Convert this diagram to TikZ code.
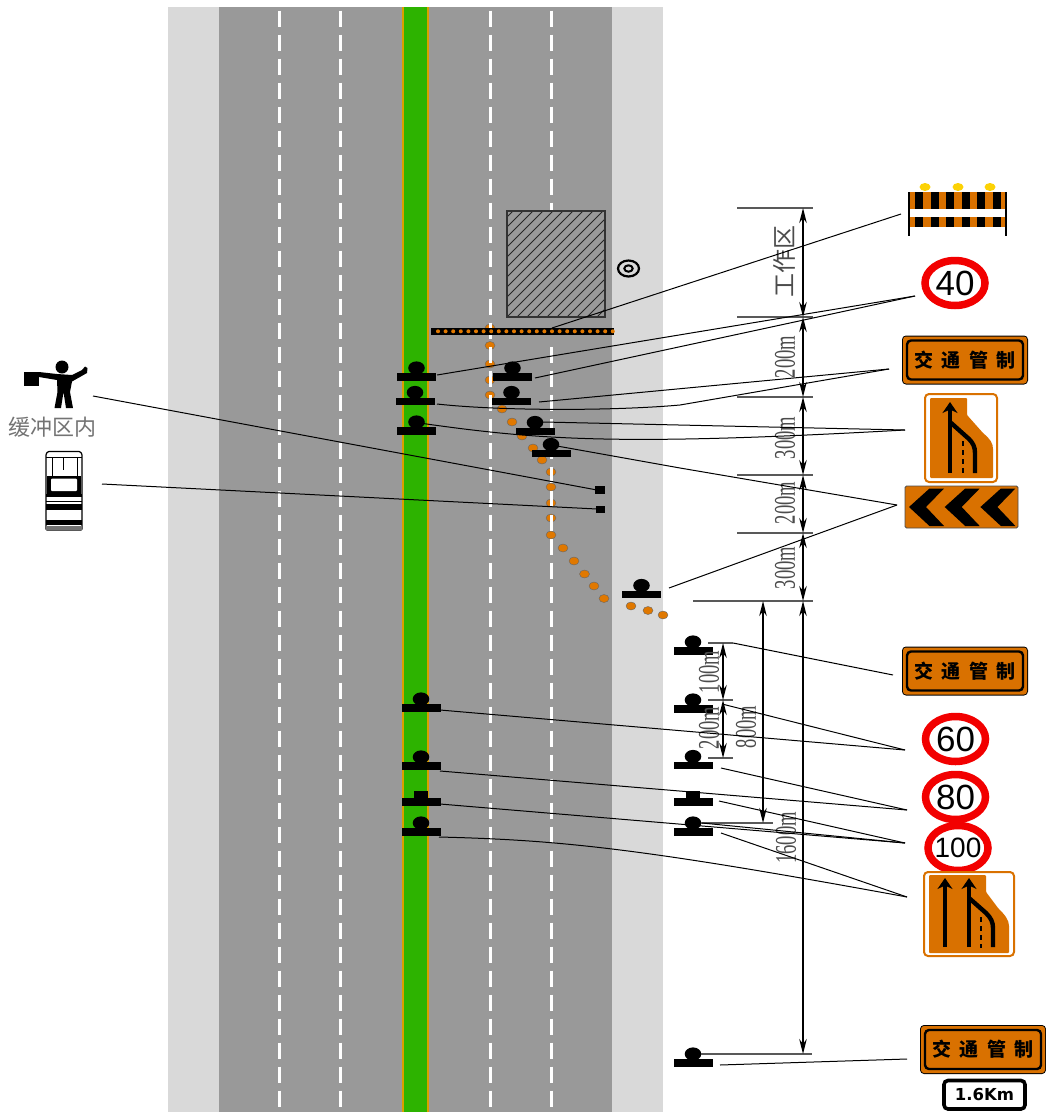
\documentclass[tikz,border=0pt]{standalone}
\usepackage{fontspec}
\setmainfont{Liberation Sans}
\newfontfamily\serifnum{Liberation Serif}
\newfontfamily\widefont{DejaVu Sans}
\newfontfamily\cjk{Noto Sans CJK SC}
\usetikzlibrary{arrows.meta}
\definecolor{roadgray}{HTML}{999999}
\definecolor{shoulder}{HTML}{D9D9D9}
\definecolor{median}{HTML}{2DB300}
\definecolor{edgeor}{HTML}{D9A000}
\definecolor{signor}{HTML}{D97100}
\definecolor{coneor}{HTML}{E07800}
\tikzset{
  x=1pt,y=-1pt,
  lane/.style={white,line width=3pt,dash pattern=on 16.5pt off 7.5pt,dash phase=20.5pt},
  lead/.style={black,line width=1pt},
  tick/.style={black!65,line width=1.1pt},
  dimline/.style={black,line width=1.4pt,{Stealth[length=15pt,width=7.5pt]}-{Stealth[length=15pt,width=7.5pt]}},
  dimtext/.style={rotate=90,inner sep=0pt,text=black!70,font=\serifnum\fontsize{30}{30}\selectfont},
  cone/.style={fill=coneor,draw=black!60,line width=0.4pt},
  post/.pic={\fill[black] (-19.5,-3.8) rectangle (19.5,3.8); \fill[black] (0,-9) circle[x radius=8.3pt,y radius=6.6pt];\fill[black] (-4,-4) rectangle (4,0);},
  flatpost/.pic={\fill[black] (-19.5,-3.8) rectangle (19.5,3.8); \fill[black] (-7,-11) rectangle (7,0);},
  speed/.style={inner sep=0pt,text=black,font=\fontsize{35}{35}\selectfont},
  jt/.pic={
    \fill[black,rounded corners=4pt] (-63,-24.5) rectangle (63,24.5);
    \fill[signor,rounded corners=3pt] (-62,-23.5) rectangle (62,23.5);
    \draw[black,line width=2.4pt,rounded corners=4pt] (-58,-19.5) rectangle (58,19.5);
    \node[inner sep=0pt,font=\cjk\bfseries\fontsize{19}{19}\selectfont] (-text) at (0,0) {交\hspace{8.5pt}通\hspace{8.5pt}管\hspace{8.5pt}制};
  },
  mergeback/.style={draw=signor,fill=white,line width=2pt,rounded corners=4pt},
  laneline/.style={black,line width=4.4pt},
  lanearrow/.style={black,line width=4.4pt,-{Stealth[length=11pt,width=15pt]}},
}
\begin{document}
\begin{tikzpicture}
\useasboundingbox (0,0) rectangle (1046,1114);
% road
\fill[shoulder] (168,7) rectangle (663,1112);
\fill[roadgray] (219,7) rectangle (612,1112);
\fill[median] (403,7) rectangle (428,1112);
\draw[edgeor,line width=2.2pt] (403.3,7) -- (403.3,1112) (428,7) -- (428,1112);
% cones
\foreach \x/\y in {490/328,490/345.5,490/364,490/380,490/395,502/409,512/422,522/436,533/448,542/460,551/472,551/487,551/503,551/518,551/535,563/548,574/561,584.5/574,594/586,604/598.5,631/606,648/610.5,663/615}
  \path[cone] (\x,\y) circle[x radius=5pt,y radius=4pt];
% lanes
\foreach \x in {279,340,490,551} \draw[lane] (\x,7) -- (\x,1112);
\fill[roadgray] (547,317) rectangle (555,347);
% work area
\begin{scope}
\clip (507,211) rectangle (605,317);
\fill[roadgray] (507,211) rectangle (605,317);
\foreach \i in {0,...,22}
  \draw[black!85,line width=0.9pt] (390+\i*10,324) -- (390+\i*10+120,204);
\end{scope}
\draw[black!80,line width=1.3pt] (507,211) rectangle (605,317);
% target
\draw[black,line width=2.2pt] (628.5,268.5) circle[x radius=10.5pt,y radius=8pt];
\draw[black,line width=2pt] (628.5,268.5) circle[x radius=4.2pt,y radius=3.2pt];
% barrier
\fill[black] (431,328) rectangle (613.5,334.5);
\foreach \i in {0,...,23} \fill[coneor] (438+\i*7.6,331.3) circle[radius=2pt];
% posts
\foreach \x/\y in {416.5/377,512.5/377,415/401.5,511.5/401.5,416.5/431,535/431.5,551/453.5,641.5/594.5,693/651,693/709,693/765.5,693/832,693/1063,421/708,421/766,421/832}
  \pic at (\x,\y) {post};
\pic at (693,802) {flatpost};
\pic at (421,802) {flatpost};
% blocks
\fill[black] (595,486) rectangle (605,494);
\fill[black] (596,506) rectangle (605,513);
% ---------- signs ----------
% barrier sign
\foreach \x in {925,958,990} \fill[yellow!70!orange] (\x,187) circle[x radius=5.5pt,y radius=4pt];
\fill[signor] (908,192) rectangle (1007,209);
\fill[signor] (908,217) rectangle (1007,227);
\foreach \i in {0,...,5} {
  \fill[black] (915+\i*15.6,192) rectangle (923+\i*15.6,209);
  \fill[black] (915+\i*15.6,217) rectangle (923+\i*15.6,227);
}
\draw[black,line width=1.8pt] (909,192) -- (909,236) (1006,192) -- (1006,236);
\coordinate (barsign) at (901,214);
% speed signs
\foreach \n/\x/\y/\t in {s40/955/283/40,s60/955.5/739/60,s80/955.5/797/80} {
  \draw[red!95!black,fill=white,line width=7.5pt] (\x,\y) circle[x radius=30pt,y radius=22.5pt];
  \node[speed] (\n) at (\x,\y) {\t};
}
\draw[red!95!black,fill=white,line width=7.5pt] (958,848) circle[x radius=30pt,y radius=22.5pt];
\node[speed,font=\fontsize{28}{28}\selectfont] (s100) at (958,848) {100};
% JT signs
\pic (jta) at (965,360) {jt};
\pic (jtb) at (965,671) {jt};
\pic (jtc) at (983,1049.5) {jt};
% merge 1
\draw[mergeback] (925,394) rectangle (997,482);
\fill[signor,rounded corners=1pt] (930,398) -- (967,398) -- (967,415) -- (983,433) .. controls (990,439) and (993,443) .. (993,450) -- (993,478) -- (930,478) -- cycle;
\draw[lanearrow] (950,473) -- (950,402);
\draw[laneline] (950,422) -- (969,439) .. controls (973,443) and (975,447) .. (975,453) -- (975,473);
\draw[black,line width=2.4pt,dash pattern=on 5pt off 4pt] (963,441) -- (963,474);
% chevrons
\fill[signor,draw=black!70,line width=0.8pt,rounded corners=1.5pt] (905,486) rectangle (1018,528);
\foreach \i in {0,1,2}
  \fill[black,xshift=\i*35.7pt] (909,507) -- (929.5,488.5) -- (944,488.5) -- (926,507) -- (944,526) -- (929.5,526) -- cycle;
% merge 2
\draw[mergeback] (924,872) rectangle (1014,956);
\fill[signor,rounded corners=1pt] (929,875) -- (986,875) -- (986,892) -- (998,908) .. controls (1005,915) and (1009,920) .. (1009,927) -- (1009,953) -- (929,953) -- cycle;
\draw[lanearrow] (945,947) -- (945,878);
\draw[lanearrow] (969,947) -- (969,878);
\draw[laneline] (969,898) -- (986,913) .. controls (991,918) and (993,922) .. (993,928) -- (993,947);
\draw[black,line width=2.4pt,dash pattern=on 5pt off 4pt] (981,917) -- (981,948);
% 1.6Km
\draw[black,fill=white,line width=3.6pt,rounded corners=4pt] (944,1080.5) rectangle (1025,1109);
\node[inner sep=0pt,font=\widefont\bfseries\fontsize{16.5}{16.5}\selectfont] (km) at (984.5,1094.5) {1.6Km};
% flagger
\fill[black] (62,367) circle[radius=6.5pt];
\fill[black] (24,372) rectangle (39,386);
\fill[black] (39,372) -- (57,374) -- (72,375) -- (82,370) -- (85,366.5) -- (87.5,368) -- (87,373) -- (72,381.5) -- (70,392) -- (73,408) -- (66,408) -- (63.5,392) -- (61,408) -- (54.5,408) -- (57.5,392) -- (57,380) -- (39,377) -- cycle;
\node[inner sep=0pt,text=black!55,font=\cjk\fontsize{22}{22}\selectfont] (buf) at (53,427) {缓冲区内};
% truck
\begin{scope}[black,line width=0.9pt]
\draw[line width=1.2pt,rounded corners=1pt] (46,454) -- (48,451.5) -- (80,451.5) -- (82,454) -- (82,530) -- (46,530) -- cycle;
\draw (46,457) -- (82,457) (52,457) -- (52,476) (63.5,457) -- (63.5,470) (77,457) -- (77,476);
\fill (47,476) rectangle (81,494);
\fill[white,rounded corners=1pt] (51,483) -- (51,478.5) -- (77,478.5) -- (77,483) -- (77,491) -- (51,491) -- cycle;
\fill (46,494) rectangle (82,497);
\draw (46,501) -- (82,501);
\fill (46,504) rectangle (82,510);
\fill (46,520) rectangle (82,525);
\fill[black!55] (46,526) rectangle (82,530);
\end{scope}
% ---------- dimensions ----------
\foreach \y/\a in {208/737,317/737,397/737,475/737,533/737,601/693}
  \draw[tick] (\a,\y) -- (813,\y);
\draw[tick] (701,1054) -- (812,1054);
\draw[tick] (701,823) -- (773,823);
\foreach \y in {643,700,758} \draw[tick] (708,\y) -- (733,\y);
\foreach \n/\y in {d0/208,d1/317,d2/397,d3/475,d4/533,d5/601,d6/1054} \coordinate (\n) at (803,\y);
\draw[dimline] (d0) -- (d1);
\draw[dimline] (d1) -- (d2);
\draw[dimline] (d2) -- (d3);
\draw[dimline] (d3) -- (d4);
\draw[dimline] (d4) -- (d5);
\draw[dimline] (d5) -- (d6);
\coordinate (e0) at (763,601); \coordinate (e1) at (763,823);
\draw[dimline] (e0) -- (e1);
\coordinate (f0) at (723,643); \coordinate (f1) at (723,700); \coordinate (f2) at (723,758);
\draw[dimline] (f0) -- (f1);
\draw[dimline] (f1) -- (f2);
\foreach \n/\x/\y/\t in {la/785/357/200m,lb/785/438/300m,lc/785/503/200m,ld/785/568/300m,le/786/838/1600m,lf/709/672/100m,lg/709/728/200m,lh/746/727/800m}
  \node[dimtext] (\n) at (\x,\y) {\scalebox{0.62}[1]{\t}};
\node[dimtext,font=\cjk\fontsize{24}{24}\selectfont] (lw) at (784,261) {工作区};
% ---------- leaders ----------
\coordinate (a1) at (552,328); \coordinate (a2) at (437,375); \coordinate (a3) at (535,378); \coordinate (b40) at (915,296);
\coordinate (a4) at (437,404); \coordinate (a5) at (539,402); \coordinate (bj) at (889,369);
\coordinate (a6) at (543,422); \coordinate (a7) at (423,423.5); \coordinate (bm) at (905,430);
\coordinate (a8) at (557,446); \coordinate (a9) at (669,588); \coordinate (bc) at (897,505);
\coordinate (c1) at (93,396); \coordinate (c2) at (597,490); \coordinate (c3) at (102,484); \coordinate (c4) at (597,509);
\coordinate (g1) at (733,643); \coordinate (g2) at (893,675);
\coordinate (h1) at (440,710); \coordinate (h2) at (722,704); \coordinate (h3) at (905,750);
\coordinate (i1) at (440,771); \coordinate (i2) at (721,768); \coordinate (i3) at (907,810);
\coordinate (j1) at (440,804); \coordinate (j2) at (719,801); \coordinate (j3) at (702,823); \coordinate (j4) at (905,843);
\coordinate (k1) at (439,837); \coordinate (k2) at (721,833); \coordinate (k4) at (907,897);
\coordinate (m1) at (720,1065); \coordinate (m2) at (907,1059);
\draw[lead] (a1) -- (barsign);
\draw[lead] (a2) -- (b40);
\draw[lead] (a3) -- (b40);
\draw[lead] (a4) .. controls (500,411) and (613,411) .. (680,405) -- (bj);
\draw[lead] (a5) -- (bj);
\draw[lead] (a6) -- (bm);
\draw[lead] (a7) .. controls (540,440) and (620,446) .. (bm);
\draw[lead] (a8) -- (680,468) -- (bc);
\draw[lead] (a9) -- (bc);
\draw[lead] (c1) -- (c2);
\draw[lead] (c3) -- (c4);
\draw[lead] (g1) -- (g2);
\draw[lead] (h1) -- (h3);
\draw[lead] (h2) -- (h3);
\draw[lead] (i1) -- (i3);
\draw[lead] (i2) -- (i3);
\draw[lead] (j1) -- (j4);
\draw[lead] (j2) -- (j4);
\draw[lead] (j3) -- (j4);
\draw[lead] (k1) .. controls (560,840) and (640,848) .. (k4);
\draw[lead] (k2) -- (k4);
\draw[lead] (m1) -- (m2);
\end{tikzpicture}
\end{document}
